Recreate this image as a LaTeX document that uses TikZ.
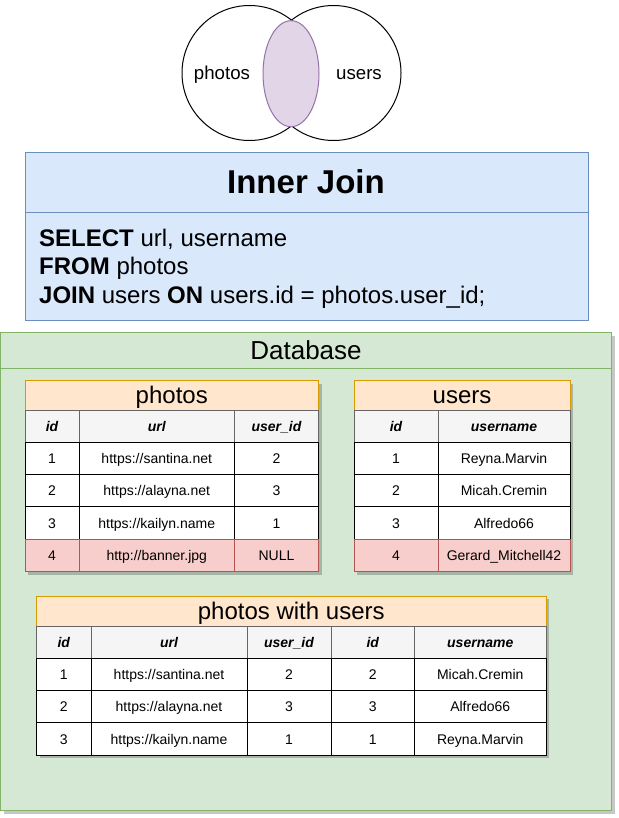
\documentclass[tikz,border=0pt]{standalone}
\usepackage{fontspec}
\setmainfont{Liberation Sans}
\usetikzlibrary{positioning,shapes.geometric}
\definecolor{blueFill}{HTML}{DAE8FC}
\definecolor{blueLine}{HTML}{6C8EBF}
\definecolor{greenFill}{HTML}{D5E8D4}
\definecolor{greenLine}{HTML}{82B366}
\definecolor{orFill}{HTML}{FFE6CC}
\definecolor{orLine}{HTML}{D79B00}
\definecolor{hdFill}{HTML}{F5F5F5}
\definecolor{hdLine}{HTML}{666666}
\definecolor{redFill}{HTML}{F8CECC}
\definecolor{redLine}{HTML}{B85450}
\definecolor{purFill}{HTML}{E1D5E7}
\definecolor{purLine}{HTML}{9673A6}
\newcommand{\fs}[1]{\fontsize{#1}{#1}\selectfont}
\newcommand{\tcell}[7]{%
  \node[#6, minimum width={(#4-#2)*1pt}, minimum height={(#5-#3)*1pt}]
    (#1) at ({(#2+#4)/2},{(#3+#5)/2}) {#7};}
\newcommand{\tshadow}[4]{%
  \fill[black, opacity=0.22] (#1+3,#2+3) rectangle (#3+3,#4+3);}
\tikzset{
  cellbase/.style={draw, inner sep=0pt, outer sep=0pt, text depth=0pt, line width=1pt},
  ttl/.style={cellbase, fill=orFill, draw=orLine, font=\fs{24}, text height=17.2pt},
  hd/.style={cellbase, fill=hdFill, draw=hdLine, font=\fs{14}\bfseries\itshape, text height=10pt},
  dat/.style={cellbase, fill=white, draw=black, font=\fs{14}, text height=10pt},
  bad/.style={cellbase, fill=redFill, draw=redLine, font=\fs{14}, text height=10pt},
  venntxt/.style={font=\fs{18.67}, text height=13.4pt, text depth=0pt, inner sep=0pt},
}
\begin{document}
\begin{tikzpicture}[x=1pt, y=-1pt]
\useasboundingbox (0,0) rectangle (618,818);
\fill[white] (0,0) rectangle (618,818);
% Venn
\node[draw=black, fill=white, circle, minimum size=135pt, line width=1pt, inner sep=0pt] (cleft) at (249.5,73) {};
\node[draw=black, circle, minimum size=135pt, line width=1pt, inner sep=0pt] (cright) at (333.5,73) {};
\node[draw=purLine, fill=purFill, ellipse, minimum width=56pt, minimum height=106pt, inner sep=0pt, line width=1pt] (lens) at (291,73.7) {};
\node[venntxt] (lphotos) at (222,73) {photos};
\node[venntxt] (lusers) at (359,73) {users};
% Inner Join box
\node[draw=blueLine, fill=blueFill, line width=1pt, minimum width=563pt, minimum height=59.5pt, inner sep=0pt] (ijhead) at (306.5,182.6) {};
\node[draw=blueLine, fill=blueFill, line width=1pt, minimum width=563pt, minimum height=107.7pt, inner sep=0pt] (ijbody) at (306.5,266.2) {};
\node[font=\fs{33}\bfseries, anchor=base] (ijtitle) at (306,194) {Inner Join};
\node[font=\fs{24}, anchor=base west, inner sep=0pt] (sql1) at (39,246) {\textbf{SELECT} url, username};
\node[font=\fs{24}, anchor=base west, inner sep=0pt] (sql2) at (39,274.5) {\textbf{FROM} photos};
\node[font=\fs{24}, anchor=base west, inner sep=0pt] (sql3) at (39,303) {\textbf{JOIN} users \textbf{ON} users.id = photos.user\_id;};
% Database
\fill[black, opacity=0.22] (3.5,335.5) rectangle (614.5,813.5);
\node[draw=greenLine, fill=greenFill, line width=1pt, minimum width=611pt, minimum height=478pt, inner sep=0pt] (db) at (306,571.5) {};
\draw[greenLine, line width=1pt] (db.west |- 0,368) coordinate (dbl) -- (db.east |- 0,368) coordinate (dbr);
\node[font=\fs{26}, anchor=base] (dbtitle) at (306,359.5) {Database};
% photos table
\tshadow{25}{380.5}{318.5}{571.5}
\tcell{ptitle}{25}{380.5}{318.5}{410}{ttl}{photos}
\tcell{ph1}{25}{410}{79}{442.3}{hd}{id}
\tcell{ph2}{79}{410}{234.5}{442.3}{hd}{url}
\tcell{ph3}{234.5}{410}{318.5}{442.3}{hd}{user\_id}
\tcell{pa1}{25}{442.3}{79}{474.6}{dat}{1}
\tcell{pa2}{79}{442.3}{234.5}{474.6}{dat}{https://santina.net}
\tcell{pa3}{234.5}{442.3}{318.5}{474.6}{dat}{2}
\tcell{pb1}{25}{474.6}{79}{506.9}{dat}{2}
\tcell{pb2}{79}{474.6}{234.5}{506.9}{dat}{https://alayna.net}
\tcell{pb3}{234.5}{474.6}{318.5}{506.9}{dat}{3}
\tcell{pc1}{25}{506.9}{79}{539.2}{dat}{3}
\tcell{pc2}{79}{506.9}{234.5}{539.2}{dat}{https://kailyn.name}
\tcell{pc3}{234.5}{506.9}{318.5}{539.2}{dat}{1}
\tcell{pd1}{25}{539.2}{79}{571.5}{bad}{4}
\tcell{pd2}{79}{539.2}{234.5}{571.5}{bad}{http://banner.jpg}
\tcell{pd3}{234.5}{539.2}{318.5}{571.5}{bad}{NULL}
% users table
\tshadow{354}{380.5}{570}{571.5}
\tcell{utitle}{354}{380.5}{570}{410}{ttl}{users}
\tcell{uh1}{354}{410}{438}{442.3}{hd}{id}
\tcell{uh2}{438}{410}{570}{442.3}{hd}{username}
\tcell{ua1}{354}{442.3}{438}{474.6}{dat}{1}
\tcell{ua2}{438}{442.3}{570}{474.6}{dat}{Reyna.Marvin}
\tcell{ub1}{354}{474.6}{438}{506.9}{dat}{2}
\tcell{ub2}{438}{474.6}{570}{506.9}{dat}{Micah.Cremin}
\tcell{uc1}{354}{506.9}{438}{539.2}{dat}{3}
\tcell{uc2}{438}{506.9}{570}{539.2}{dat}{Alfredo66}
\tcell{ud1}{354}{539.2}{438}{571.5}{bad}{4}
\tcell{ud2}{438}{539.2}{570}{571.5}{bad}{Gerard\_Mitchell42}
% photos with users
\tshadow{36.5}{596}{546}{755.3}
\tcell{jtitle}{36.5}{596}{546}{626}{ttl}{photos with users}
\tcell{jh1}{36.5}{626}{91}{658.3}{hd}{id}
\tcell{jh2}{91}{626}{247}{658.3}{hd}{url}
\tcell{jh3}{247}{626}{331}{658.3}{hd}{user\_id}
\tcell{jh4}{331}{626}{414.5}{658.3}{hd}{id}
\tcell{jh5}{414.5}{626}{546}{658.3}{hd}{username}
\tcell{ja1}{36.5}{658.3}{91}{690.6}{dat}{1}
\tcell{ja2}{91}{658.3}{247}{690.6}{dat}{https://santina.net}
\tcell{ja3}{247}{658.3}{331}{690.6}{dat}{2}
\tcell{ja4}{331}{658.3}{414.5}{690.6}{dat}{2}
\tcell{ja5}{414.5}{658.3}{546}{690.6}{dat}{Micah.Cremin}
\tcell{jb1}{36.5}{690.6}{91}{722.9}{dat}{2}
\tcell{jb2}{91}{690.6}{247}{722.9}{dat}{https://alayna.net}
\tcell{jb3}{247}{690.6}{331}{722.9}{dat}{3}
\tcell{jb4}{331}{690.6}{414.5}{722.9}{dat}{3}
\tcell{jb5}{414.5}{690.6}{546}{722.9}{dat}{Alfredo66}
\tcell{jc1}{36.5}{722.9}{91}{755.3}{dat}{3}
\tcell{jc2}{91}{722.9}{247}{755.3}{dat}{https://kailyn.name}
\tcell{jc3}{247}{722.9}{331}{755.3}{dat}{1}
\tcell{jc4}{331}{722.9}{414.5}{755.3}{dat}{1}
\tcell{jc5}{414.5}{722.9}{546}{755.3}{dat}{Reyna.Marvin}
\end{tikzpicture}
\end{document}
